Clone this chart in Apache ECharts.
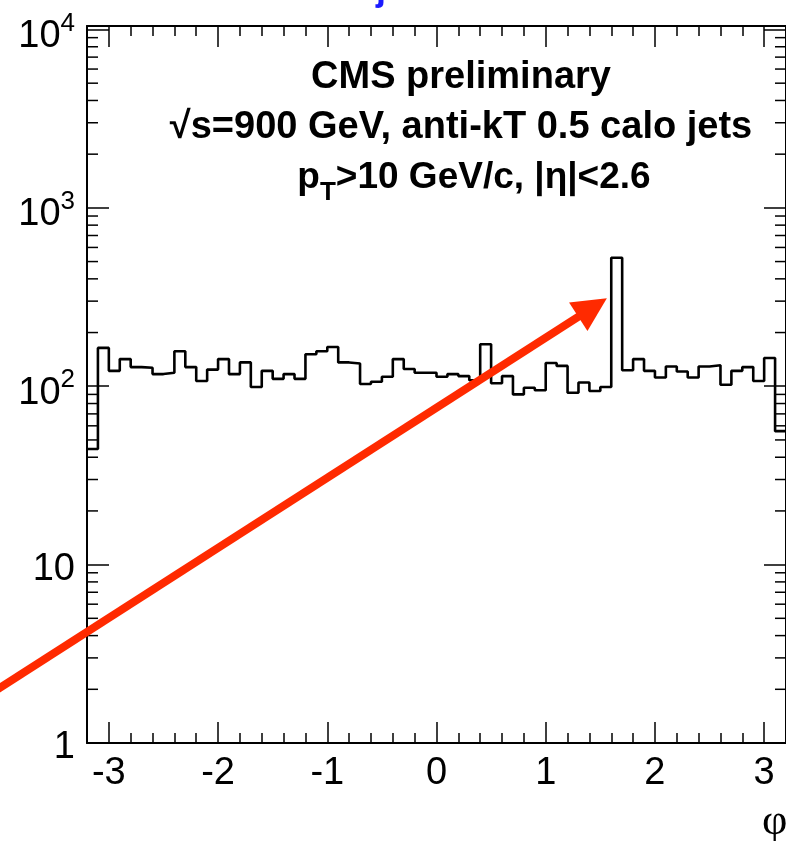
<!DOCTYPE html>
<html>
<head>
<meta charset="utf-8">
<script src="https://cdn.jsdelivr.net/npm/echarts@6/dist/echarts.min.js"></script>
<style>
html,body{margin:0;padding:0;background:#fff;}
#chart{width:786px;height:841px;}
</style>
</head>
<body>
<div id="chart"></div>
<script>
// ---- data ----
const phiMin = -3.2;
const phiMax = 3.2;
const binWidth = 0.1;
const counts = [44.5, 164, 122, 142, 128, 127, 117, 119, 157, 128, 107, 124, 142, 117, 136, 99,
                122, 110, 117, 110, 151, 157, 166, 136, 134, 103, 106, 113, 142, 125, 119, 119,
                113, 117, 114, 108, 172, 104, 114, 90, 98, 95, 135, 130, 92, 105, 94, 99,
                525, 123, 142, 122, 112, 129, 121, 112, 129, 131, 102, 122, 128, 107, 144, 56];
const yMin = 1;
const yMax = 10460;
const yMinorTicks = [2,3,4,5,6,7,8,9, 20,30,40,50,60,70,80,90, 200,300,400,500,600,700,800,900,
                     2000,3000,4000,5000,6000,7000,8000,9000];
const textLines = ['CMS preliminary', '\u221As=900 GeV, anti-kT 0.5 calo jets'];
const arrowFrom = [-4.1, 1.86];
const arrowTo = [1.56, 311];

// histogram outline points at bin edges
const histPoints = counts.map((c, i) => [+(phiMin + i * binWidth).toFixed(2), c]);
histPoints.push([phiMax, counts[counts.length - 1]]);

const FONT = 'Liberation Sans, Arial, Helvetica, sans-serif';
const chart = echarts.init(document.getElementById('chart'), null, {renderer: 'canvas'});

const blackLine = {show: true, onZero: false, lineStyle: {color: '#000', width: 2}};
const noLine = {show: false, onZero: false};
function xAxisDef(pos, major, withLabels, lineShown) {
  const a = {
    type: 'value', min: phiMin, max: phiMax, position: pos,
    axisLine: lineShown ? blackLine : noLine,
    axisTick: {show: true, inside: true, length: major ? 21 : 10, lineStyle: {color: '#000', width: 1.5}},
    splitLine: {show: false},
    axisLabel: withLabels ? {
      show: true, color: '#000', fontFamily: FONT, fontSize: 38, margin: 12,
      showMinLabel: false, showMaxLabel: false,
      formatter: v => String(Math.round(v))
    } : {show: false}
  };
  if (!major) a.interval = 0.2;
  return a;
}

const option = {
  backgroundColor: '#fff',
  animation: false,
  grid: {left: 87, right: -7, top: 26, bottom: 98, containLabel: false},
  xAxis: [
    xAxisDef('bottom', true, true, true),
    xAxisDef('bottom', false, false, false),
    xAxisDef('top', true, false, true),
    xAxisDef('top', false, false, false)
  ],
  yAxis: [
    {
      type: 'log', logBase: 10, min: yMin, max: yMax, position: 'left',
      axisLine: blackLine,
      axisTick: {show: true, inside: true, length: 22, lineStyle: {color: '#000', width: 1.5}},
      splitLine: {show: false},
      axisLabel: {
        show: true, color: '#000', fontFamily: FONT, margin: 12,
        showMaxLabel: false,
        formatter: v => {
          const e = Math.round(Math.log10(v));
          if (e === 0) return '{p|1}';
          if (e === 1) return '{p|10}';
          return '{b|10}{s|' + e + '}';
        },
        rich: {
          p: {fontFamily: FONT, fontSize: 38, lineHeight: 38, padding: [9, 0, 0, 0], color: '#000'},
          b: {fontFamily: FONT, fontSize: 38, lineHeight: 38, padding: [14, 0, 0, 0], color: '#000'},
          s: {fontFamily: FONT, fontSize: 26, lineHeight: 26, verticalAlign: 'top', padding: [0, 0, 0, 0], color: '#000'}
        }
      }
    },
    {
      type: 'log', logBase: 10, min: yMin, max: yMax, position: 'right',
      axisLine: blackLine,
      axisTick: {show: true, inside: true, length: 22, lineStyle: {color: '#000', width: 1.5}},
      splitLine: {show: false},
      axisLabel: {show: false}
    }
  ],
  series: [
    {
      type: 'line', xAxisIndex: 0, yAxisIndex: 0,
      data: histPoints, step: 'end', showSymbol: false, symbol: 'none',
      lineStyle: {color: '#000', width: 2.6}, z: 5, silent: true
    },
    {
      type: 'custom', xAxisIndex: 0, yAxisIndex: 0, silent: true, z: 4,
      data: yMinorTicks.map(v => [phiMin, v]),
      encode: {x: 0, y: 1},
      renderItem: (params, api) => {
        const v = api.value(1);
        const pl = api.coord([phiMin, v]);
        const pr = api.coord([phiMax, v]);
        return {
          type: 'group', children: [
            {type: 'line', shape: {x1: pl[0], y1: pl[1], x2: pl[0] + 11, y2: pl[1]}, style: {stroke: '#000', lineWidth: 1.5}},
            {type: 'line', shape: {x1: pr[0] - 11, y1: pr[1], x2: pr[0], y2: pr[1]}, style: {stroke: '#000', lineWidth: 1.5}}
          ]
        };
      }
    }
  ]
};
chart.setOption(option);

// annotations
const a0 = chart.convertToPixel({seriesIndex: 0}, arrowFrom);
const a1 = chart.convertToPixel({seriesIndex: 0}, arrowTo);
const dx = a1[0] - a0[0], dy = a1[1] - a0[1];
const len = Math.sqrt(dx * dx + dy * dy);
const ux = dx / len, uy = dy / len;
const nx = -uy, ny = ux;
const headLen = 34, headHalf = 17;
const bx = a1[0] - headLen * ux, by = a1[1] - headLen * uy;
const RED = '#ff2a00';

chart.setOption({
  graphic: [
    {type: 'text', x: 461, y: 78, z: 10, style: {text: textLines[0], fill: '#000', font: 'bold 38px ' + FONT, align: 'center', verticalAlign: 'middle'}},
    {type: 'text', x: 461, y: 128, z: 10, style: {text: textLines[1], fill: '#000', font: 'bold 38px ' + FONT, align: 'center', verticalAlign: 'middle'}},
    {type: 'text', x: 474, y: 178, z: 10, style: {
      text: '{m|p}{t|T}{m|>10 GeV/c, |\u03B7|<2.6}', align: 'center', verticalAlign: 'middle',
      rich: {
        m: {fontFamily: FONT, fontWeight: 'bold', fontSize: 37, lineHeight: 40, fill: '#000'},
        t: {fontFamily: FONT, fontWeight: 'bold', fontSize: 26, lineHeight: 26, verticalAlign: 'bottom', padding: [0, 0, -8, 0], fill: '#000'}
      }
    }},
    {type: 'text', x: 381, y: 8, z: 10, style: {text: 'j', fill: '#1a1aff', font: 'bold 36px ' + FONT, align: 'center', verticalAlign: 'bottom'}},
    {type: 'text', x: 762, y: 800, z: 10, style: {text: '\u03C6', fill: '#000', font: '44px Liberation Serif, DejaVu Serif, serif', align: 'left', verticalAlign: 'top'}},
    {type: 'line', z: 20, shape: {x1: a0[0], y1: a0[1], x2: bx + 4 * ux, y2: by + 4 * uy}, style: {stroke: RED, lineWidth: 8}},
    {type: 'polygon', z: 20, shape: {points: [[a1[0], a1[1]], [bx + headHalf * nx, by + headHalf * ny], [bx - headHalf * nx, by - headHalf * ny]]}, style: {fill: RED}}
  ]
});
</script>
</body>
</html>
